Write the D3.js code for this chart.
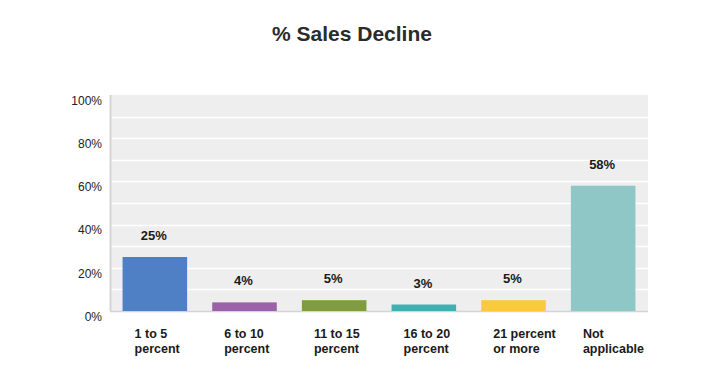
<!DOCTYPE html>
<html>
<head>
<meta charset="utf-8">
<script src="https://cdn.jsdelivr.net/npm/d3@7"></script>
<style>
  body { margin: 0; background: #fff; }
  svg { display: block; font-family: "Liberation Sans", Arial, sans-serif; }
</style>
</head>
<body>
<div id="chart"></div>
<script>
const categories = [["1 to 5", "percent"], ["6 to 10", "percent"], ["11 to 15", "percent"],
                    ["16 to 20", "percent"], ["21 percent", "or more"], ["Not", "applicable"]];
const values = [25, 4, 5, 3, 5, 58];
const barColors = ["#4f7fc4", "#9b62a9", "#7f9d3e", "#3fb0b1", "#fbc840", "#8fc6c6"];
const yTicks = [0, 20, 40, 60, 80, 100];
const gridTicks = [10, 20, 30, 40, 50, 60, 70, 80, 90];

const width = 725, height = 384;
const plot = {left: 110, right: 648, top: 95, bottom: 311};

const svg = d3.select("#chart").append("svg")
    .attr("width", width)
    .attr("height", height);

const x = d3.scaleBand()
    .domain(d3.range(categories.length))
    .range([plot.left, plot.right])
    .paddingInner(0.28)
    .paddingOuter(0.14);

const y = d3.scaleLinear()
    .domain([0, 100])
    .range([plot.bottom, plot.top]);

// title
svg.append("text")
    .attr("x", 352)
    .attr("y", 41)
    .attr("text-anchor", "middle")
    .style("font-size", "21px")
    .style("font-weight", "bold")
    .style("fill", "#2b2b2b")
    .text("% Sales Decline");

// plot background + grid
svg.append("rect")
    .attr("x", plot.left)
    .attr("y", plot.top)
    .attr("width", plot.right - plot.left)
    .attr("height", plot.bottom - plot.top)
    .style("fill", "#eeeeee");

svg.append("g").selectAll("line")
    .data(gridTicks)
    .enter()
    .append("line")
    .attr("x1", plot.left)
    .attr("x2", plot.right)
    .attr("y1", d => Math.round(y(d)) + 0.5)
    .attr("y2", d => Math.round(y(d)) + 0.5)
    .style("stroke", "#ffffff")
    .style("stroke-width", 1.5);

// axis lines
svg.append("line")
    .attr("x1", plot.left + 0.5).attr("x2", plot.left + 0.5)
    .attr("y1", plot.top).attr("y2", plot.bottom)
    .style("stroke", "#d4d4d4").style("stroke-width", 2);
svg.append("line")
    .attr("x1", plot.left).attr("x2", plot.right)
    .attr("y1", plot.bottom + 0.5).attr("y2", plot.bottom + 0.5)
    .style("stroke", "#d4d4d4").style("stroke-width", 1.5);

// y axis labels (sit a little below their gridlines in the original)
const yAxis = d3.axisLeft(y)
    .tickValues(yTicks)
    .tickFormat(d => d + "%")
    .tickSize(0)
    .tickPadding(8);

svg.append("g")
    .attr("transform", `translate(${plot.left},5)`)
    .call(yAxis)
    .call(g => g.select(".domain").remove())
    .call(g => g.selectAll("text")
        .attr("dy", "0.35em")
        .style("font-size", "12px")
        .style("font-family", "'Liberation Sans', Arial, sans-serif")
        .style("fill", "#222"));

// bars
svg.append("g").selectAll("rect")
    .data(values)
    .enter()
    .append("rect")
    .attr("x", (d, i) => x(i))
    .attr("y", d => y(d))
    .attr("width", x.bandwidth())
    .attr("height", d => y(0) - y(d))
    .style("fill", (d, i) => barColors[i]);

// value labels
svg.append("g").selectAll("text")
    .data(values)
    .enter()
    .append("text")
    .attr("x", (d, i) => x(i) + x.bandwidth() / 2 - 1)
    .attr("y", d => y(d) - 17)
    .attr("text-anchor", "middle")
    .style("font-size", "13px")
    .style("font-weight", "bold")
    .style("fill", "#1a1a1a")
    .text(d => d + "%");

// category labels
const cat = svg.append("g").selectAll("text")
    .data(categories)
    .enter()
    .append("text")
    .attr("x", (d, i) => x(i) + 12)
    .attr("y", 338)
    .style("font-size", "12.5px")
    .style("font-weight", "bold")
    .style("fill", "#1a1a1a");

cat.selectAll("tspan")
    .data(d => d)
    .enter()
    .append("tspan")
    .attr("x", function() { return d3.select(this.parentNode).attr("x"); })
    .attr("dy", (d, i) => i === 0 ? 0 : 15)
    .text(d => d);
</script>
</body>
</html>
